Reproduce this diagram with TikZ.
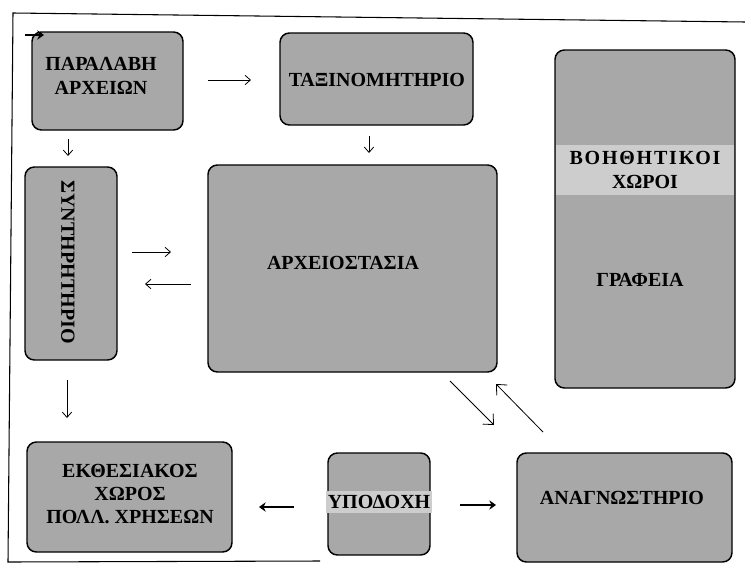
\documentclass[tikz,border=0pt]{standalone}
\usepackage{fontspec}
\setmainfont{Liberation Serif}[BoldFont={Liberation Serif Bold}]
\newfontfamily\spacedfont{Liberation Serif Bold}[LetterSpace=9]
\usetikzlibrary{arrows.meta,fit}
\definecolor{boxgray}{RGB}{168,168,168}
\definecolor{bandgray}{RGB}{205,205,205}
\begin{document}
\begin{tikzpicture}[x=0.75pt,y=-0.75pt,
  room/.style={draw=black, line width=1.1pt, rounded corners=7pt, fill=boxgray, inner sep=0pt},
  lbl/.style={font=\fontsize{15}{17.5}\selectfont\bfseries, align=center, inner sep=0pt, text=black},
  arr/.style={line width=0.6pt, -{Straight Barb[length=4pt,width=7pt]}},
  fatarr/.style={line width=2pt, -{Stealth[length=5pt,width=7pt]}},
  diag/.style={line width=0.6pt, -{Straight Barb[length=6pt,width=11pt]}},
  frame/.style={line width=0.8pt}]
\useasboundingbox (0,0) rectangle (745,571);

% outer frame
\coordinate (f1) at (320,561);
\coordinate (f2) at (8,562);
\coordinate (f3) at (13,13);
\coordinate (f4) at (745,22);
\draw[frame] (f1) -- (f2) -- (f3) -- (f4);

% boxes
\node[room, fit={(32,32) (183,130)}] (b1) {};
\node[room, fit={(280,33) (473,125)}] (b2) {};
\node[room, fit={(25,167) (117,360)}] (b3) {};
\node[room, fit={(208,165) (497,372)}] (b4) {};
\node[room, fit={(555,50) (735,388)}] (b5) {};
\node[room, fit={(27,442) (232,552)}] (b6) {};
\node[room, fit={(328,453) (430,555)}] (b7) {};
\node[room, fit={(517,453) (732,562)}] (b8) {};

% labels
\node[lbl] (t1) at (101,76) {ΠΑΡΑΛΑΒΗ\\ΑΡΧΕΙΩΝ};
\node[lbl] (t2) at (377,80) {ΤΑΞΙΝΟΜΗΤΗΡΙΟ};
\node[lbl, rotate=-90] (t3) at (68,262) {ΣΥΝΤΗΡΗΤΗΡΙΟ};
\node[lbl] (t4) at (343,263) {ΑΡΧΕΙΟΣΤΑΣΙΑ};
\node[lbl, fill=bandgray, inner xsep=1pt, inner ysep=5pt, minimum width=133pt] (t5) at (645,170)
  {{\spacedfont ΒΟΗΘΗΤΙΚΟΙ}\\ΧΩΡΟΙ};
\node[lbl] (t6) at (640,280) {ΓΡΑΦΕΙΑ};
\node[lbl] (t7) at (130,494) {ΕΚΘΕΣΙΑΚΟΣ\\ΧΩΡΟΣ\\ΠΟΛΛ. ΧΡΗΣΕΩΝ};
\node[lbl, fill=bandgray, inner xsep=1pt, inner ysep=3pt] (t8) at (379,502) {ΥΠΟΔΟΧΗ};
\node[lbl] (t9) at (622,498) {ΑΝΑΓΝΩΣΤΗΡΙΟ};

% arrows
\coordinate (a1s) at (25,35);  \coordinate (a1e) at (44,35);
\coordinate (a2s) at (208,80); \coordinate (a2e) at (251,80);
\coordinate (a3s) at (68,139); \coordinate (a3e) at (68,156);
\coordinate (a4s) at (369,136); \coordinate (a4e) at (369,153);
\coordinate (a5s) at (132,252); \coordinate (a5e) at (171,252);
\coordinate (a6s) at (191,284); \coordinate (a6e) at (145,284);
\coordinate (a7s) at (67,380); \coordinate (a7e) at (67,418);
\coordinate (a8s) at (294,507); \coordinate (a8e) at (259,507);
\coordinate (a9s) at (460,505); \coordinate (a9e) at (496,505);
\coordinate (a10s) at (450,381); \coordinate (a10e) at (494,425);
\coordinate (a11s) at (543,432); \coordinate (a11e) at (496,384);

\draw[fatarr] (a1s) -- (a1e);
\draw[arr] (a2s) -- (a2e);
\draw[arr] (a3s) -- (a3e);
\draw[arr] (a4s) -- (a4e);
\draw[arr] (a5s) -- (a5e);
\draw[arr] (a6s) -- (a6e);
\draw[arr] (a7s) -- (a7e);
\draw[fatarr] (a8s) -- (a8e);
\draw[fatarr] (a9s) -- (a9e);
\draw[diag] (a10s) -- (a10e);
\draw[diag] (a11s) -- (a11e);
\end{tikzpicture}
\end{document}
